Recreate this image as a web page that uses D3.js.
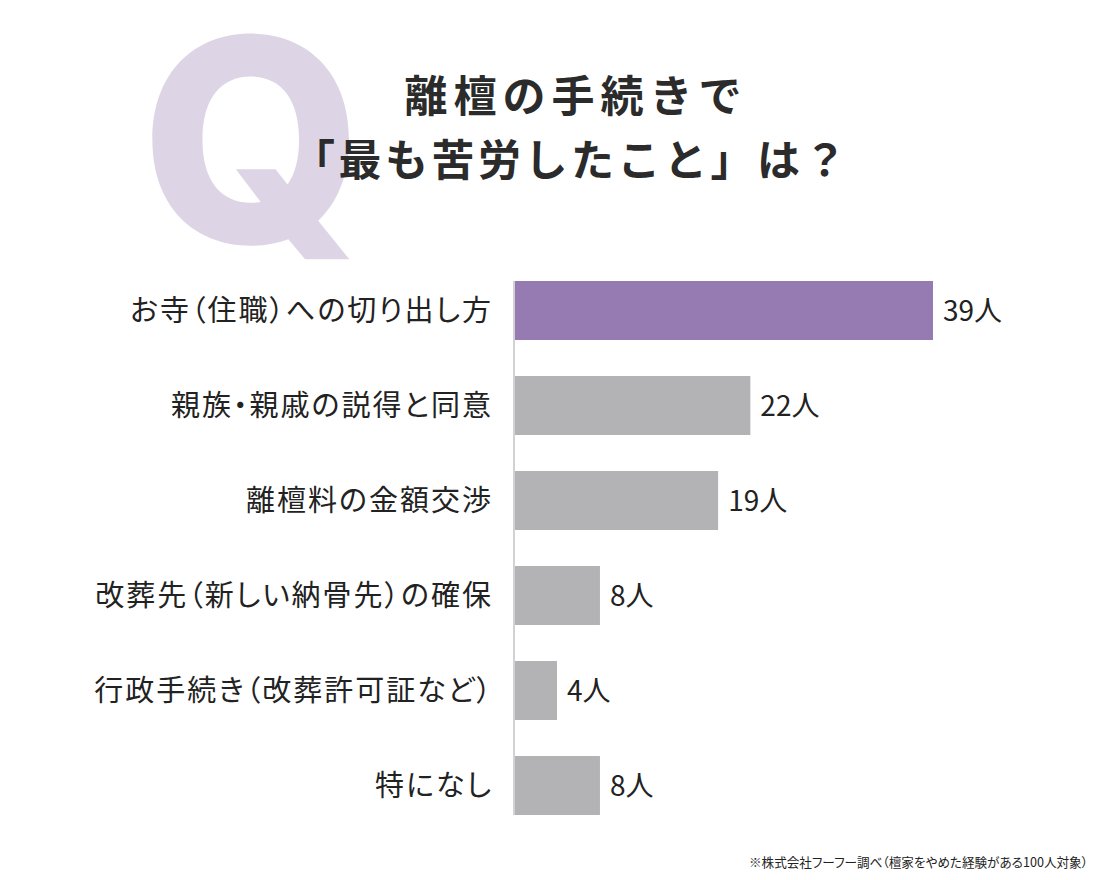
<!DOCTYPE html>
<html><head><meta charset="utf-8">
<script src="https://cdn.jsdelivr.net/npm/d3@7"></script>
<style>
html,body{margin:0;padding:0;background:#fff;}
svg{display:block;}
</style></head>
<body>
<svg id="chart" width="1100" height="880"></svg>
<script>
const categories = ["お寺（住職）への切り出し方","親族・親戚の説得と同意","離檀料の金額交渉","改葬先（新しい納骨先）の確保","行政手続き（改葬許可証など）","特になし"];
const values = [39, 22, 19, 8, 4, 8];
const unit = "人";
const titleLines = ["離檀の手続きで","「最も苦労したこと」は？"];
const footnote = "※株式会社フーフー調べ（檀家をやめた経験がある100人対象）";

const JP = "'Noto Sans CJK JP','Noto Sans',sans-serif";
const svg = d3.select("#chart").style("font-family", JP);
svg.append("rect").attr("width",1100).attr("height",880).attr("fill","#fff");

// Big Q
svg.append("text").attr("x",141).attr("y",243)
  .style("font-family","Inter,'Liberation Sans',sans-serif")
  .attr("font-weight",800).attr("font-size",284)
  .attr("fill","#ddd5e6").text("Q");

// Title
const title = svg.append("g").attr("fill","#2b2b2b").attr("font-weight",700)
  .attr("text-anchor","middle");
title.append("text").attr("x",576).attr("y",112).attr("font-size",43)
  .attr("letter-spacing",6).text(titleLines[0]);
title.append("text").attr("x",571).attr("y",176).attr("font-size",43)
  .attr("letter-spacing",3.5).text(titleLines[1]);

const x = d3.scaleLinear().domain([0,39]).range([514,933]);
const y = d3.scaleBand().domain(categories).range([263,833])
  .paddingInner(36/95).paddingOuter(18/95);

const data = categories.map((c,i)=>({c, v: values[i], i}));

svg.append("g").selectAll("rect").data(data).join("rect")
  .attr("x", x(0)).attr("y", d=>y(d.c))
  .attr("width", d=>x(d.v)-x(0)).attr("height", y.bandwidth())
  .attr("fill", d=> d.i===0 ? "#957bb1" : "#b3b2b5");

// axis line
svg.append("line").attr("x1",x(0)).attr("x2",x(0))
  .attr("y1", y(categories[0])).attr("y2", y(categories[categories.length-1])+y.bandwidth())
  .attr("stroke","#d2d2d4").attr("stroke-width",2);

// category labels
svg.append("g").selectAll("text").data(data).join("text")
  .attr("x", 493).attr("y", d=>y(d.c)+y.bandwidth()/2+10)
  .attr("text-anchor","end").attr("font-size",29)
  .attr("letter-spacing",2)
  .style("font-feature-settings","'palt'")
  .attr("fill","#222").text(d=>d.c);

// value labels
svg.append("g").selectAll("text").data(data).join("text")
  .attr("x", d=>x(d.v)+10).attr("y", d=>y(d.c)+y.bandwidth()/2+10)
  .attr("font-size",28).attr("fill","#222")
  .text(d=>d.v+unit);

// footnote
svg.append("text").attr("x",1088).attr("y",867).attr("text-anchor","end")
  .attr("font-size",12.6).style("font-feature-settings","'palt'")
  .attr("fill","#222").text(footnote);
</script>
</body></html>
